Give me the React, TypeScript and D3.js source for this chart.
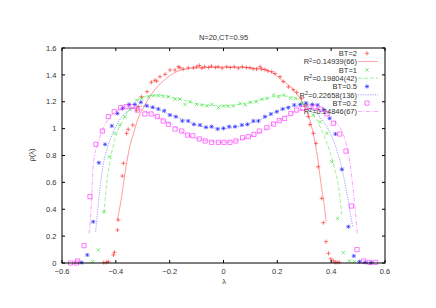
import React, { useEffect, useRef } from 'react';
import * as d3 from 'd3';

type Pt = [number, number];

// x ticks / y ticks
const xTicks = [-0.6, -0.4, -0.2, 0, 0.2, 0.4, 0.6];
const yTicks = [0, 0.2, 0.4, 0.6, 0.8, 1, 1.2, 1.4, 1.6];

// BT=2 (red, +)
const bt2Points: Pt[] = [
  [-0.445, 0.003], [-0.435, 0.005], [-0.428, 0.01], [-0.409, 0.06], [-0.405, 0.08],
  [-0.394, 0.245], [-0.391, 0.32], [-0.376, 0.647], [-0.372, 0.742], [-0.36, 0.965],
  [-0.354, 0.995], [-0.337, 1.027], [-0.323, 1.138], [-0.317, 1.163], [-0.305, 1.237],
  [-0.284, 1.275], [-0.268, 1.345], [-0.255, 1.36], [-0.248, 1.354], [-0.236, 1.386],
  [-0.217, 1.404], [-0.199, 1.436], [-0.18, 1.436], [-0.168, 1.46], [-0.162, 1.453],
  [-0.15, 1.443], [-0.131, 1.453], [-0.112, 1.453], [-0.1, 1.46], [-0.09, 1.47],
  [-0.08, 1.45], [-0.07, 1.46], [-0.055, 1.455], [-0.045, 1.465], [-0.03, 1.455],
  [-0.02, 1.46], [-0.005, 1.45], [0.012, 1.46], [0.025, 1.455], [0.04, 1.46],
  [0.055, 1.45], [0.07, 1.46], [0.085, 1.455], [0.098, 1.453], [0.11, 1.445],
  [0.123, 1.443], [0.136, 1.46], [0.142, 1.443], [0.154, 1.44], [0.165, 1.43],
  [0.179, 1.424], [0.191, 1.41], [0.21, 1.386], [0.222, 1.35], [0.241, 1.31],
  [0.259, 1.29], [0.272, 1.27], [0.29, 1.225], [0.303, 1.176], [0.315, 1.09],
  [0.321, 1.03], [0.334, 0.965], [0.344, 0.89], [0.352, 0.716], [0.365, 0.481],
  [0.371, 0.3], [0.381, 0.159], [0.39, 0.072], [0.399, 0.03], [0.408, 0.015],
  [0.415, 0.005], [0.422, 0.005], [0.43, 0.005],
];
const bt2Fit: Pt[] = [
  [-0.394, 0.32], [-0.378, 0.5], [-0.362, 0.72], [-0.35, 0.85], [-0.335, 0.96],
  [-0.317, 1.077], [-0.292, 1.176], [-0.261, 1.275], [-0.224, 1.354], [-0.186, 1.411],
  [-0.15, 1.44], [-0.1, 1.452], [-0.05, 1.457], [0, 1.458], [0.05, 1.457],
  [0.1, 1.452], [0.15, 1.44], [0.186, 1.41], [0.224, 1.35], [0.25, 1.31],
  [0.272, 1.26], [0.3, 1.17], [0.324, 1.04], [0.349, 0.79], [0.365, 0.55],
  [0.375, 0.42], [0.381, 0.31],
];

// BT=1 (green, x)
const bt1Points: Pt[] = [
  [-0.486, 0.01], [-0.465, 0.097], [-0.444, 0.382], [-0.424, 0.79], [-0.403, 0.965],
  [-0.385, 1.027], [-0.366, 1.089], [-0.347, 1.143], [-0.323, 1.213], [-0.304, 1.225],
  [-0.279, 1.237], [-0.261, 1.245], [-0.242, 1.245], [-0.224, 1.24], [-0.205, 1.237],
  [-0.18, 1.22], [-0.162, 1.22], [-0.143, 1.18], [-0.124, 1.2], [-0.1, 1.18],
  [-0.081, 1.176], [-0.062, 1.168], [-0.044, 1.18], [-0.019, 1.156], [0, 1.168],
  [0.018, 1.168], [0.037, 1.168], [0.062, 1.188], [0.081, 1.176], [0.099, 1.196],
  [0.122, 1.2], [0.142, 1.22], [0.161, 1.225], [0.186, 1.25], [0.204, 1.237],
  [0.223, 1.25], [0.248, 1.225], [0.267, 1.225], [0.292, 1.188], [0.309, 1.176],
  [0.334, 1.101], [0.359, 1.051], [0.384, 0.965], [0.402, 0.754], [0.424, 0.332],
  [0.445, 0.077], [0.468, 0.015], [0.486, 0.01],
];
const bt1Fit: Pt[] = [
  [-0.444, 0.37], [-0.434, 0.59], [-0.424, 0.73], [-0.409, 0.88], [-0.395, 0.97],
  [-0.378, 1.05], [-0.347, 1.151], [-0.31, 1.225], [-0.273, 1.245], [-0.236, 1.25],
  [-0.186, 1.23], [-0.15, 1.213], [-0.087, 1.18], [0, 1.17], [0.1, 1.196],
  [0.161, 1.225], [0.21, 1.245], [0.272, 1.225], [0.309, 1.163], [0.346, 1.064],
  [0.373, 0.95], [0.395, 0.83], [0.413, 0.7], [0.425, 0.6], [0.432, 0.5],
  [0.439, 0.36],
];

// BT=0.5 (blue, *)
const bt05Points: Pt[] = [
  [-0.527, 0.003], [-0.506, 0.06], [-0.484, 0.307], [-0.463, 0.746], [-0.44, 0.883],
  [-0.415, 1.02], [-0.394, 1.113], [-0.375, 1.151], [-0.351, 1.18], [-0.329, 1.18],
  [-0.307, 1.196], [-0.285, 1.17], [-0.263, 1.159], [-0.242, 1.146], [-0.22, 1.133],
  [-0.199, 1.101], [-0.177, 1.089], [-0.153, 1.057], [-0.131, 1.057], [-0.11, 1.032],
  [-0.087, 1.027], [-0.065, 1.01], [-0.044, 1.015], [-0.022, 0.997], [0, 1.002],
  [0.021, 1.015], [0.043, 1.015], [0.068, 1.027], [0.089, 1.032], [0.111, 1.057],
  [0.13, 1.057], [0.154, 1.089], [0.176, 1.109], [0.198, 1.126], [0.22, 1.146],
  [0.241, 1.156], [0.263, 1.176], [0.285, 1.18], [0.307, 1.19], [0.33, 1.18],
  [0.35, 1.175], [0.372, 1.14], [0.394, 1.076], [0.416, 0.96], [0.44, 0.697],
  [0.464, 0.27], [0.484, 0.052], [0.505, 0.01], [0.526, 0.005], [0.548, 0.002],
];
const bt05Fit: Pt[] = [
  [-0.475, 0.233], [-0.462, 0.5], [-0.447, 0.73], [-0.428, 0.878], [-0.403, 1.002],
  [-0.372, 1.101], [-0.335, 1.151], [-0.298, 1.168], [-0.261, 1.156], [-0.211, 1.114],
  [-0.162, 1.077], [-0.075, 1.014], [0, 1.002], [0.086, 1.032], [0.161, 1.089],
  [0.198, 1.126], [0.259, 1.168], [0.309, 1.163], [0.352, 1.1], [0.384, 1.014],
  [0.417, 0.865], [0.44, 0.7], [0.46, 0.5], [0.47, 0.38], [0.48, 0.27],
];

// BT=0.2 (magenta, open square)
const bt02Points: Pt[] = [
  [-0.568, 0.0], [-0.546, 0.0], [-0.542, 0.015], [-0.518, 0.129], [-0.496, 0.494],
  [-0.474, 0.883], [-0.45, 0.982], [-0.428, 1.089], [-0.406, 1.126], [-0.382, 1.156],
  [-0.362, 1.163], [-0.34, 1.165], [-0.32, 1.138], [-0.292, 1.109], [-0.269, 1.109],
  [-0.246, 1.089], [-0.224, 1.057], [-0.205, 1.032], [-0.18, 0.997], [-0.155, 0.982],
  [-0.134, 0.952], [-0.114, 0.947], [-0.09, 0.923], [-0.068, 0.908], [-0.044, 0.898],
  [-0.019, 0.898], [0.002, 0.898], [0.024, 0.898], [0.046, 0.908], [0.071, 0.932],
  [0.092, 0.94], [0.113, 0.957], [0.133, 0.982], [0.161, 1.007], [0.186, 1.034],
  [0.207, 1.059], [0.227, 1.076], [0.25, 1.113], [0.272, 1.138], [0.295, 1.15],
  [0.318, 1.16], [0.34, 1.16], [0.362, 1.145], [0.384, 1.11], [0.408, 1.04],
  [0.432, 0.96], [0.455, 0.833], [0.475, 0.424], [0.496, 0.1], [0.521, 0.015],
  [0.543, 0.005], [0.565, 0.005],
];
const bt02Fit: Pt[] = [
  [-0.499, 0.22], [-0.49, 0.469], [-0.484, 0.73], [-0.465, 0.903], [-0.447, 1.002],
  [-0.422, 1.089], [-0.391, 1.138], [-0.36, 1.163], [-0.323, 1.151], [-0.273, 1.114],
  [-0.224, 1.064], [-0.174, 1.007], [-0.15, 0.972], [-0.075, 0.915], [0, 0.898],
  [0.086, 0.932], [0.161, 1.002], [0.21, 1.064], [0.272, 1.133], [0.334, 1.151],
  [0.384, 1.114], [0.421, 1.039], [0.452, 0.915], [0.47, 0.742], [0.482, 0.543],
  [0.49, 0.38], [0.497, 0.22],
];

const pointLabels = ['BT=2', 'BT=1', 'BT=0.5', 'BT=0.2'];
const fitLabels = ['0.14939(66)', '0.19804(42)', '0.22658(136)', '0.24846(67)'];

const FONT = '"Liberation Sans", Arial, sans-serif';

export default function App() {
  const svgRef = useRef<SVGSVGElement>(null);

  useEffect(() => {
    if (!svgRef.current) return;
    const svg = d3.select(svgRef.current);
    svg.selectAll('*').remove();

    const left = 62, right = 385, top = 48, bottom = 263;
    const x = d3.scaleLinear().domain([-0.6, 0.6]).range([left, right]);
    const y = d3.scaleLinear().domain([0, 1.6]).range([bottom, top]);

    svg.append('rect').attr('width', 436).attr('height', 308).attr('fill', '#fff');

    const series = [
      { pts: bt2Points, fit: bt2Fit, color: '#ff2020', marker: 'plus', dash: null },
      { pts: bt1Points, fit: bt1Fit, color: '#20e020', marker: 'cross', dash: '4,2' },
      { pts: bt05Points, fit: bt05Fit, color: '#2020ff', marker: 'star', dash: '1.2,1.2' },
      { pts: bt02Points, fit: bt02Fit, color: '#ff20ff', marker: 'box', dash: '4,1.5,1,1.5' },
    ];

    const drawMarker = (g: any, kind: string, cx: number, cy: number, color: string) => {
      const s = 2.1;
      let d = '';
      if (kind === 'plus' || kind === 'star') d += `M${cx - s},${cy}H${cx + s}M${cx},${cy - s}V${cy + s}`;
      if (kind === 'cross' || kind === 'star') d += `M${cx - s * 0.8},${cy - s * 0.8}L${cx + s * 0.8},${cy + s * 0.8}M${cx - s * 0.8},${cy + s * 0.8}L${cx + s * 0.8},${cy - s * 0.8}`;
      if (kind === 'box') d = `M${cx - s},${cy - s}h${2 * s}v${2 * s}h${-2 * s}Z`;
      g.append('path').attr('d', d).attr('fill', 'none').attr('stroke', color)
        .attr('stroke-width', 0.8).attr('opacity', 0.75);
    };

    const line = d3.line<Pt>().x(d => x(d[0])).y(d => y(d[1])).curve(d3.curveMonotoneX);

    const plot = svg.append('g');
    series.forEach(s => {
      s.pts.forEach(p => drawMarker(plot, s.marker, x(p[0]), y(p[1]), s.color));
      plot.append('path').datum(s.fit).attr('d', line).attr('fill', 'none')
        .attr('stroke', s.color).attr('stroke-width', 0.8).attr('opacity', 0.55)
        .attr('stroke-dasharray', s.dash);
    });

    // frame and ticks
    const axis = svg.append('g').attr('stroke', '#000').attr('stroke-width', 1);
    axis.append('rect').attr('x', left).attr('y', top).attr('width', right - left)
      .attr('height', bottom - top).attr('fill', 'none');
    xTicks.forEach(t => {
      axis.append('line').attr('x1', x(t)).attr('x2', x(t)).attr('y1', bottom).attr('y2', bottom - 3);
      axis.append('line').attr('x1', x(t)).attr('x2', x(t)).attr('y1', top).attr('y2', top + 3);
    });
    yTicks.forEach(t => {
      axis.append('line').attr('x1', left).attr('x2', left + 3).attr('y1', y(t)).attr('y2', y(t));
      axis.append('line').attr('x1', right).attr('x2', right - 3).attr('y1', y(t)).attr('y2', y(t));
    });

    const txt = svg.append('g').attr('font-family', FONT).attr('font-size', 7.5).attr('fill', '#333');
    xTicks.forEach(t => {
      txt.append('text').attr('x', x(t)).attr('y', 274).attr('text-anchor', 'middle').text(d3.format('')(t));
    });
    yTicks.forEach(t => {
      txt.append('text').attr('x', 56.5).attr('y', y(t) + 2.7).attr('text-anchor', 'end').text(d3.format('')(t));
    });
    txt.append('text').attr('x', 223.5).attr('y', 39.5).attr('text-anchor', 'middle').text('N=20,CT=0.95');
    txt.append('text').attr('x', 224).attr('y', 284).attr('text-anchor', 'middle').text('λ');
    txt.append('text').attr('transform', 'translate(34,155) rotate(-90)').attr('text-anchor', 'middle').text('ρ(λ)');

    // legend
    series.forEach((s, i) => {
      const y1 = 53.3 + i * 16.6;
      const y2 = y1 + 8.3;
      txt.append('text').attr('x', 357).attr('y', y1 + 2.7).attr('text-anchor', 'end').text(pointLabels[i]);
      drawMarker(svg, s.marker, 367, y1, s.color);
      const t2 = txt.append('text').attr('x', 357).attr('y', y2 + 2.7).attr('text-anchor', 'end');
      t2.append('tspan').text('R');
      t2.append('tspan').attr('dy', -2.5).attr('font-size', 5.5).text('2');
      t2.append('tspan').attr('dy', 2.5).text('=' + fitLabels[i]);
      svg.append('line').attr('x1', 358).attr('x2', 378).attr('y1', y2).attr('y2', y2)
        .attr('stroke', s.color).attr('stroke-width', 0.8).attr('opacity', 0.55)
        .attr('stroke-dasharray', s.dash);
    });
  }, []);

  return (
    <svg ref={svgRef} width={436} height={308} viewBox="0 0 436 308"
      style={{ position: 'fixed', left: 0, top: 0 }} />
  );
}
